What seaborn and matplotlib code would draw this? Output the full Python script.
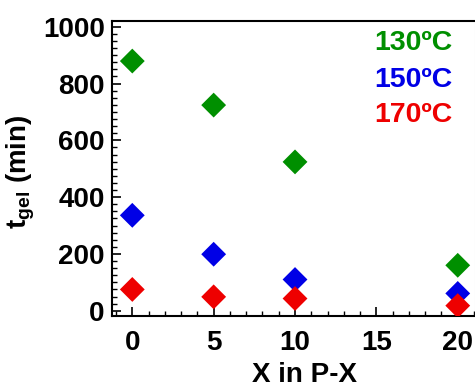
import numpy as np
import pandas as pd
import matplotlib
matplotlib.use("Agg")
import matplotlib.pyplot as plt
import seaborn as sns
from matplotlib.ticker import MultipleLocator

x_values = [0, 5, 10, 20]
t_130 = [879, 724, 524, 160]
t_150 = [336, 199, 110, 61]
t_170 = [75, 49, 43, 18]
series_labels = ["130ºC", "150ºC", "170ºC"]
series_colors = ["#008f00", "#0000e6", "#ee0000"]

sns.set_style("ticks")
plt.rcParams["font.family"] = ["Liberation Sans", "DejaVu Sans"]
plt.rcParams["font.weight"] = "bold"
plt.rcParams["text.color"] = "black"
plt.rcParams["axes.labelcolor"] = "black"
plt.rcParams["xtick.color"] = "black"
plt.rcParams["ytick.color"] = "black"
plt.rcParams["mathtext.fontset"] = "custom"
plt.rcParams["mathtext.rm"] = "Liberation Sans:bold"
plt.rcParams["mathtext.bf"] = "Liberation Sans:bold"
plt.rcParams["mathtext.it"] = "Liberation Sans:bold"

df = pd.DataFrame({
    "X": x_values * 3,
    "t": t_130 + t_150 + t_170,
    "series": sum([[s] * len(x_values) for s in series_labels], []),
})

fig = plt.figure(figsize=(4.75, 3.89), dpi=100)
ax = fig.add_axes([0.235, 0.188, 0.765, 0.758])

sns.scatterplot(data=df, x="X", y="t", hue="series", palette=series_colors,
                hue_order=series_labels, marker="D", s=160, linewidth=0,
                legend=False, ax=ax, zorder=3)

ax.set_xlim(-1.27, 21.06)
ax.set_ylim(-18, 1020)
ax.xaxis.set_major_locator(MultipleLocator(5))
ax.xaxis.set_minor_locator(MultipleLocator(1))
ax.yaxis.set_major_locator(MultipleLocator(200))
ax.yaxis.set_minor_locator(MultipleLocator(25))

for s in ["left", "top", "bottom"]:
    ax.spines[s].set_linewidth(1.5)
    ax.spines[s].set_color("black")
ax.spines["right"].set_color("#dddddd")
ax.spines["right"].set_linewidth(0.8)

ax.tick_params(axis="both", which="major", direction="in", length=6.5, width=1.2,
               labelsize=20, color="black", labelcolor="black")
ax.tick_params(axis="both", which="minor", direction="in", length=3.5, width=1.0,
               color="black")
ax.tick_params(axis="x", which="both", top=False, pad=10)
ax.tick_params(axis="y", which="both", right=False, pad=5)
for lab in ax.get_xticklabels() + ax.get_yticklabels():
    lab.set_fontweight("bold")

ax.set_xlabel("X in P-X", fontsize=20, fontweight="bold", color="black")
ax.xaxis.set_label_coords(0.532, -0.155)
ax.set_ylabel(r"$\mathbf{t_{gel}}$ (min)", fontsize=20, fontweight="bold", color="black")
ax.yaxis.set_label_coords(-0.206, 0.49)

ypos = [0.925, 0.80, 0.681]
for lab, col, yp in zip(series_labels, series_colors, ypos):
    ax.text(0.937, yp, lab, color=col, fontsize=20.5, fontweight="bold",
            ha="right", va="center", transform=ax.transAxes)

fig.savefig("out.png", dpi=100)
